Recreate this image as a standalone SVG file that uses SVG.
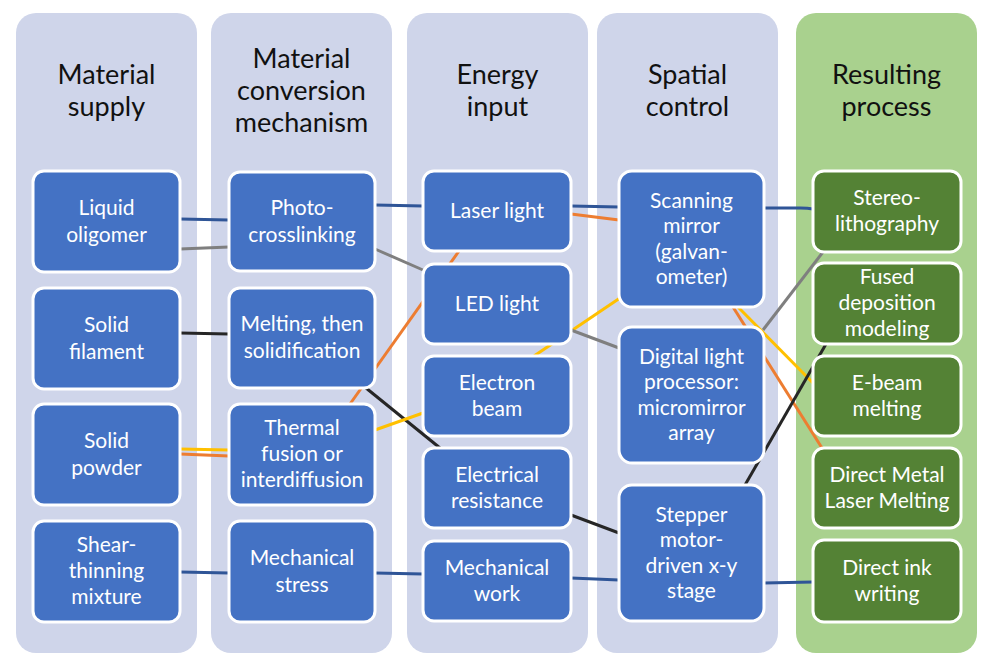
<svg xmlns="http://www.w3.org/2000/svg" width="990" height="664" viewBox="0 0 990 664">
<style>
.panel{fill:#CFD5EA}
.panel.g{fill:#A9D18E}
.title{font-family:Lato,"Open Sans","Liberation Sans",sans-serif;font-size:27px;fill:#111;text-anchor:middle}
.node rect{fill:#4472C4;stroke:#fff;stroke-width:3}
.node.g rect{fill:#548235}
.node text{font-family:Lato,"Open Sans","Liberation Sans",sans-serif;font-size:21px;fill:#fff;text-anchor:middle}
.c{fill:none;stroke-width:3}
.blue{stroke:#2F5597}
.gray{stroke:#7F7F7F}
.black{stroke:#262626}
.yellow{stroke:#FFC000}
.orange{stroke:#ED7D31}
</style>
<rect width="990" height="664" fill="#fff"/>
<g id="panels">
<rect class="panel" x="16" y="13" width="181" height="640" rx="20"/>
<rect class="panel" x="211" y="13" width="181" height="640" rx="20"/>
<rect class="panel" x="407" y="13" width="181" height="640" rx="20"/>
<rect class="panel" x="597" y="13" width="181" height="640" rx="20"/>
<rect class="panel g" x="796" y="13" width="181" height="640" rx="20"/>
<text class="title" x="106.5" y="84">Material</text>
<text class="title" x="106.5" y="116">supply</text>
<text class="title" x="301.5" y="68">Material</text>
<text class="title" x="301.5" y="100">conversion</text>
<text class="title" x="301.5" y="132">mechanism</text>
<text class="title" x="497.5" y="84">Energy</text>
<text class="title" x="497.5" y="116">input</text>
<text class="title" x="687.5" y="84">Spatial</text>
<text class="title" x="687.5" y="116">control</text>
<text class="title" x="886.5" y="84">Resulting</text>
<text class="title" x="886.5" y="116">process</text>
</g>
<g id="connectors">
<line class="c blue" x1="180" y1="219" x2="229" y2="220"/>
<line class="c gray" x1="180" y1="249" x2="229" y2="247"/>
<line class="c black" x1="180" y1="333" x2="229" y2="334"/>
<line class="c yellow" x1="180" y1="449" x2="229" y2="450"/>
<line class="c orange" x1="180" y1="454" x2="229" y2="456"/>
<line class="c blue" x1="180" y1="572" x2="229" y2="573"/>
<line class="c blue" x1="375" y1="205" x2="423" y2="206"/>
<line class="c gray" x1="375" y1="249" x2="423" y2="270"/>
<line class="c black" x1="366" y1="388" x2="440" y2="448"/>
<line class="c orange" x1="350" y1="404" x2="459" y2="251"/>
<line class="c yellow" x1="375" y1="430" x2="423" y2="413"/>
<line class="c blue" x1="375" y1="573" x2="423" y2="574"/>
<line class="c black" x1="571" y1="515" x2="619" y2="533"/>
<line class="c blue" x1="571" y1="578" x2="619" y2="580"/>
<line class="c blue" x1="571" y1="206" x2="619" y2="207"/>
<line class="c orange" x1="571" y1="214" x2="619" y2="220"/>
<line class="c yellow" x1="534" y1="356" x2="620" y2="298"/>
<line class="c gray" x1="571" y1="330" x2="619" y2="348"/>
<path class="c blue" d="M764 208 L800 208 Q808 208 813 209"/>
<line class="c gray" x1="763" y1="330" x2="823" y2="252"/>
<line class="c yellow" x1="738" y1="307" x2="813" y2="383"/>
<line class="c orange" x1="733" y1="307" x2="822" y2="448"/>
<line class="c black" x1="745" y1="485" x2="826" y2="344"/>
<line class="c blue" x1="764" y1="583" x2="813" y2="582"/>
</g>
<g id="n-liquid-oligomer" class="node"><rect x="33" y="171" width="147" height="101" rx="11"/><text x="106.5" y="215">Liquid</text><text x="106.5" y="242">oligomer</text></g>
<g id="n-solid-filament" class="node"><rect x="33" y="288" width="147" height="101" rx="11"/><text x="106.5" y="332">Solid</text><text x="106.5" y="359">filament</text></g>
<g id="n-solid-powder" class="node"><rect x="33" y="404" width="147" height="101" rx="11"/><text x="106.5" y="448">Solid</text><text x="106.5" y="475">powder</text></g>
<g id="n-shear-thinning" class="node"><rect x="33" y="521" width="147" height="101" rx="11"/><text x="106.5" y="552">Shear-</text><text x="106.5" y="578">thinning</text><text x="106.5" y="604">mixture</text></g>
<g id="n-photo-crosslinking" class="node"><rect x="229" y="172" width="146" height="99" rx="11"/><text x="302" y="215">Photo-</text><text x="302" y="242">crosslinking</text></g>
<g id="n-melting" class="node"><rect x="229" y="288" width="146" height="100" rx="11"/><text x="302" y="331">Melting, then</text><text x="302" y="358">solidification</text></g>
<g id="n-thermal-fusion" class="node"><rect x="229" y="404" width="146" height="101" rx="11"/><text x="302" y="435">Thermal</text><text x="302" y="461">fusion or</text><text x="302" y="487">interdiffusion</text></g>
<g id="n-mechanical-stress" class="node"><rect x="229" y="521" width="146" height="101" rx="11"/><text x="302" y="565">Mechanical</text><text x="302" y="592">stress</text></g>
<g id="n-laser-light" class="node"><rect x="423" y="171" width="148" height="80" rx="11"/><text x="497" y="218">Laser light</text></g>
<g id="n-led-light" class="node"><rect x="423" y="264" width="148" height="80" rx="11"/><text x="497" y="311">LED light</text></g>
<g id="n-electron-beam" class="node"><rect x="423" y="356" width="148" height="80" rx="11"/><text x="497" y="390">Electron</text><text x="497" y="416">beam</text></g>
<g id="n-electrical-resistance" class="node"><rect x="423" y="448" width="148" height="80" rx="11"/><text x="497" y="482">Electrical</text><text x="497" y="508">resistance</text></g>
<g id="n-mechanical-work" class="node"><rect x="423" y="541" width="148" height="80" rx="11"/><text x="497" y="575">Mechanical</text><text x="497" y="601">work</text></g>
<g id="n-scanning-mirror" class="node"><rect x="619" y="171" width="145" height="136" rx="13"/><text x="691.5" y="208">Scanning</text><text x="691.5" y="233">mirror</text><text x="691.5" y="259">(galvan-</text><text x="691.5" y="284">ometer)</text></g>
<g id="n-dlp" class="node"><rect x="619" y="327" width="145" height="136" rx="13"/><text x="691.5" y="364">Digital light</text><text x="691.5" y="389">processor:</text><text x="691.5" y="415">micromirror</text><text x="691.5" y="440">array</text></g>
<g id="n-stepper" class="node"><rect x="619" y="485" width="145" height="136" rx="13"/><text x="691.5" y="522">Stepper</text><text x="691.5" y="547">motor-</text><text x="691.5" y="573">driven x-y</text><text x="691.5" y="598">stage</text></g>
<g id="n-stereolithography" class="node g"><rect x="813" y="171" width="148" height="81" rx="11"/><text x="887" y="205">Stereo-</text><text x="887" y="231">lithography</text></g>
<g id="n-fdm" class="node g"><rect x="813" y="263" width="148" height="81" rx="11"/><text x="887" y="284">Fused</text><text x="887" y="310">deposition</text><text x="887" y="336">modeling</text></g>
<g id="n-ebeam" class="node g"><rect x="813" y="356" width="148" height="80" rx="11"/><text x="887" y="390">E-beam</text><text x="887" y="416">melting</text></g>
<g id="n-dmlm" class="node g"><rect x="813" y="448" width="148" height="80" rx="11"/><text x="887" y="482">Direct Metal</text><text x="887" y="508">Laser Melting</text></g>
<g id="n-diw" class="node g"><rect x="813" y="540" width="148" height="82" rx="11"/><text x="887" y="575">Direct ink</text><text x="887" y="601">writing</text></g>
</svg>
